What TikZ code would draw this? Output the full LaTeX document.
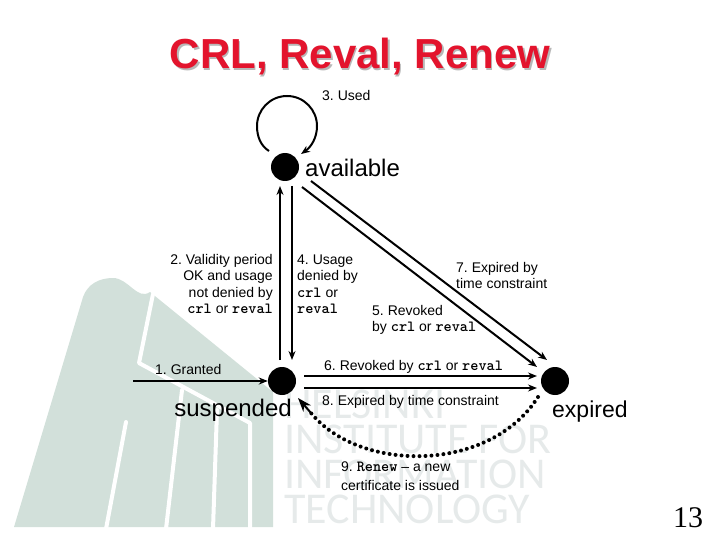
\documentclass[tikz,border=0pt]{standalone}
\usepackage{fontspec}
\setmainfont{Liberation Sans}
\newfontfamily\numfont{Liberation Serif}
\newfontfamily\markfont{Carlito}
\usetikzlibrary{arrows.meta}
\definecolor{logogreen}{HTML}{D2E0DA}
\definecolor{markgray}{HTML}{E6EAEA}
\definecolor{titlered}{HTML}{E3142D}
\newcommand{\fsize}[2]{\fontsize{#1}{#2}\selectfont}
\newcommand{\cmd}[1]{{\ttfamily\bfseries\fsize{15.5}{16.5}#1}}
\frenchspacing
\tikzset{
  state/.style={circle, fill=black, minimum size=28pt, inner sep=0pt},
  trans/.style={line width=2pt, -{Stealth[length=9pt,width=7pt]}},
  statelbl/.style={inner sep=0pt, font=\fsize{24}{28}},
  lbl/.style={inner sep=0pt, font=\fsize{14}{16.5}, align=left},
  logocut/.style={draw=white, line width=4pt, line cap=round, line join=round},
}

\begin{document}
\begin{tikzpicture}[x=1pt, y=-1pt]
  \useasboundingbox (0,0) rectangle (720,540);

  % logo
  \fill[logogreen] (14,527) -- (83,297) to [out=70, in=180] (113,278)
                   to [out=0, in=215] (150,292) -- (273,392) -- (273,527) -- cycle;
  \draw[logocut] (153,294) -- (139,363) -- (250,423) -- (250,529);
  \draw[logocut] (182,390) -- (166,529);
  \draw[logocut] (217,410) -- (213,529);
  \draw[logocut] (126,422) -- (106,529);
  \node[anchor=north west, inner sep=0pt, text=markgray, align=left, font=\markfont\fsize{44}{35}]
    (mark) at (284,390) {HELSINKI\\INSTITUTE FOR\\INFORMATION\\TECHNOLOGY};

  % title
  \node[text=black!28, font=\bfseries\fsize{42}{46}] (titleshadow) at (361.5,58.5) {CRL, Reval, Renew};
  \node[text=titlered, font=\bfseries\fsize{42}{46}] (title) at (360,57) {CRL, Reval, Renew};

  % states
  \node[state] (available) at (285,167) {};
  \node[state] (suspended) at (282,381) {};
  \node[state] (expired) at (555,381) {};
  \node[statelbl, anchor=west] (availablelbl) at (305,168) {available};
  \node[statelbl, anchor=east] (suspendedlbl) at (292,410) {suspended};
  \node[statelbl, anchor=west, font=\fsize{23}{28}] (expiredlbl) at (552,412) {expired};

  % transitions
  \coordinate (grantstart) at (133,381);
  \coordinate (looptop) at (287,96);
  \draw[trans, line width=1.5pt] (grantstart) -- (suspended);
  \draw[trans] (looptop) .. controls (304,96) and (317,110) .. (317,126)
               .. controls (317,138) and (311,147) .. (301,154);
  \draw[trans, -] (looptop) .. controls (270,96) and (257,110) .. (257,126)
               .. controls (257,137) and (261,146) .. (269,151);
  \coordinate (up2a) at (280,360); \coordinate (up2b) at (280,186);
  \coordinate (dn4a) at (292,186); \coordinate (dn4b) at (292,360);
  \draw[trans] (up2a) -- (up2b);
  \draw[trans] (dn4a) -- (dn4b);
  \coordinate (rev5a) at (302,187); \coordinate (rev5b) at (537,367);
  \coordinate (exp7a) at (311,181); \coordinate (exp7b) at (547,360);
  \draw[trans] (rev5a) -- (rev5b);
  \draw[trans] (exp7a) -- (exp7b);
  \coordinate (rev6a) at (304,376); \coordinate (rev6b) at (537,376);
  \coordinate (exp8a) at (304,388); \coordinate (exp8b) at (537,388);
  \draw[trans] (rev6a) -- (rev6b);
  \draw[trans] (exp8a) -- (exp8b);
  \coordinate (renewa) at (538,397); \coordinate (renewc) at (311,413); \coordinate (renewb) at (298,398);
  \draw[line width=4pt, line cap=round, dash pattern=on 0pt off 6pt]
    (renewa) .. controls (490,473) and (360,473) .. (renewc);
  \draw[-{Stealth[length=14pt,width=10pt]}, line width=2pt] (renewc) -- (renewb);

  % labels
  \node[lbl, anchor=west] (used) at (322,95) {3. Used};
  \node[lbl, anchor=east, align=right] (validity) at (273,284)
    {2. Validity period\\OK and usage\\not denied by\\\cmd{crl} or \cmd{reval}};
  \node[lbl, anchor=west] (usage) at (297,284)
    {4. Usage\\denied by\\\cmd{crl} or\\\cmd{reval}};
  \node[lbl, anchor=west] (expiredby) at (456,275.5) {7. Expired by\\time constraint};
  \node[lbl, anchor=west] (revoked) at (372,320) {5. Revoked\\by \cmd{crl} or \cmd{reval}};
  \node[lbl, anchor=west] (revokedby) at (324,366.5) {6. Revoked by \cmd{crl} or \cmd{reval}};
  \node[lbl, anchor=west] (expiredtime) at (322,401.5) {8. Expired by time constraint};
  \node[lbl, anchor=west, font=\fsize{14}{19}] (renew) at (341,476.5)
    {9. \cmd{Renew} -- a new\\certificate is issued};
  \node[lbl, anchor=west] (granted) at (155,369) {1. Granted};
  \node[inner sep=0pt, font=\numfont\fsize{30}{34}] (pageno) at (688,518) {13};
\end{tikzpicture}
\end{document}
